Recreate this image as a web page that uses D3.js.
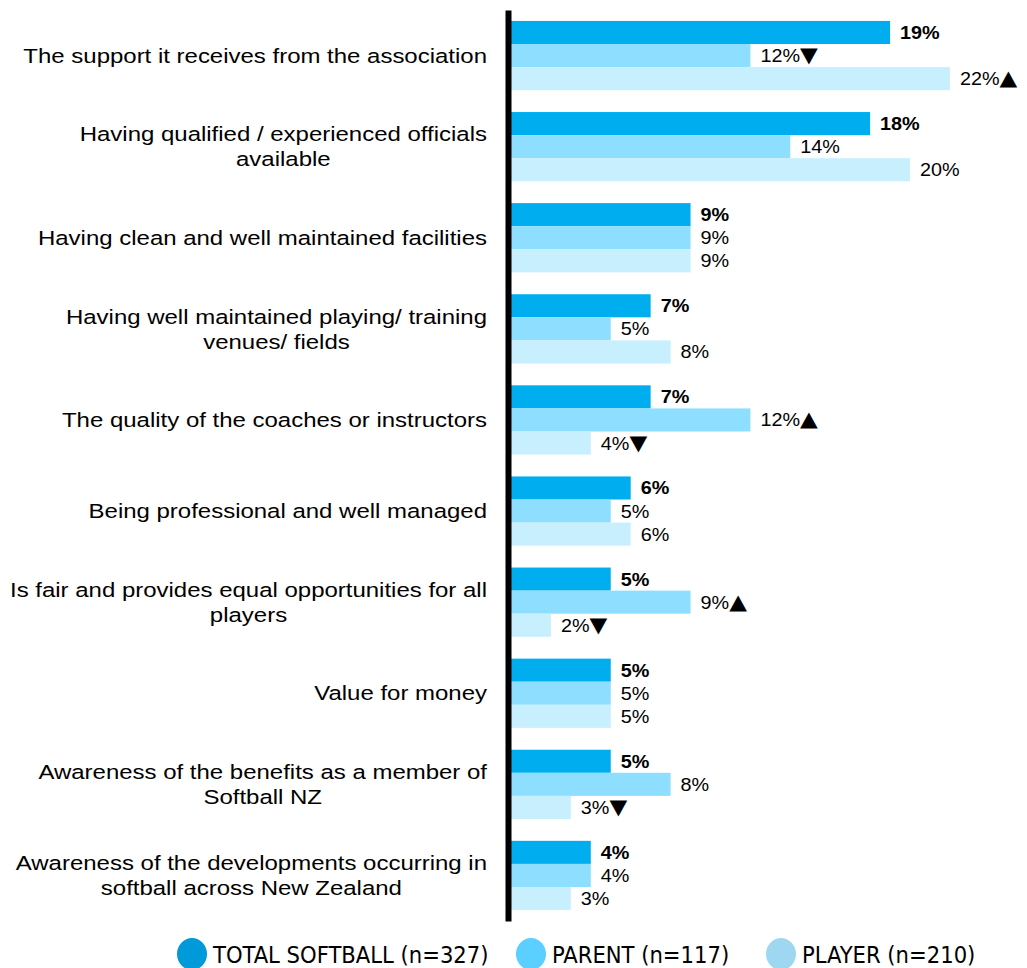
<!DOCTYPE html>
<html>
<head>
<meta charset="utf-8">
<script src="https://cdn.jsdelivr.net/npm/d3@7"></script>
<style>
  body { margin: 0; background: #fff; }
  svg { display: block; }
</style>
</head>
<body>
<div id="chart"></div>
<script>
// data
const categories = [
  'The support it receives from the association',
  'Having qualified / experienced officials|available',
  'Having clean and well maintained facilities',
  'Having well maintained playing/ training|venues/ fields',
  'The quality of the coaches or instructors',
  'Being professional and well managed',
  'Is fair and provides equal opportunities for all|players',
  'Value for money',
  'Awareness of the benefits as a member of|Softball NZ',
  'Awareness of the developments occurring in|softball across New Zealand'
];
const seriesNames = ['TOTAL SOFTBALL (n=327)', 'PARENT (n=117)', 'PLAYER (n=210)'];
const totalValues = [19, 18, 9, 7, 7, 6, 5, 5, 5, 4];
const parentValues = [12, 14, 9, 5, 12, 5, 9, 5, 8, 4];
const playerValues = [22, 20, 9, 8, 4, 6, 2, 5, 3, 3];
// significance markers: 'up' / 'down' / ''
const parentSig = ['down', '', '', '', 'up', '', 'up', '', '', ''];
const playerSig = ['up', '', '', '', 'down', '', 'down', '', 'down', ''];

const barColors = ['#00aeef', '#8edfff', '#c8effd'];
const legendColors = ['#0099d9', '#5bcfff', '#9ed8f0'];

const width = 1027, height = 968;
const svg = d3.select('#chart').append('svg')
  .attr('width', width)
  .attr('height', height);

const rows = categories.map((c, i) => ({
  cat: c,
  vals: [
    {s: 0, v: totalValues[i], sig: ''},
    {s: 1, v: parentValues[i], sig: parentSig[i]},
    {s: 2, v: playerValues[i], sig: playerSig[i]}
  ]
}));

const y = d3.scaleBand()
  .domain(categories)
  .range([10, 921])
  .paddingInner(0.24)
  .paddingOuter(0.12);

const ySub = d3.scaleBand()
  .domain([0, 1, 2])
  .range([0, y.bandwidth()]);

const x = d3.scaleLinear()
  .domain([0, 25])
  .range([511, 511 + 25 * 19.95]);

const groups = svg.selectAll('.group')
  .data(rows)
  .enter().append('g')
  .attr('class', 'group')
  .attr('transform', d => 'translate(0,' + y(d.cat) + ')');

groups.selectAll('rect')
  .data(d => d.vals)
  .enter().append('rect')
  .attr('x', x(0))
  .attr('y', d => ySub(d.s))
  .attr('width', d => x(d.v) - x(0))
  .attr('height', ySub.bandwidth())
  .attr('fill', d => barColors[d.s]);

// the source is stretched a bit horizontally, so the texts are too
const labels = groups.selectAll('text.val')
  .data(d => d.vals)
  .enter().append('text')
  .attr('class', 'val')
  .attr('transform', d => 'translate(' + (x(d.v) + 10) + ',' + (ySub(d.s) + ySub.bandwidth() / 2) + ') scale(1.1,1)')
  .attr('dy', '0.36em')
  .style('font-family', '"Liberation Sans", Arial, sans-serif')
  .style('font-size', '18px')
  .style('font-weight', d => d.s === 0 ? 'bold' : 'normal')
  .attr('fill', '#000');

labels.append('tspan').text(d => d.v + '%');
labels.filter(d => d.sig !== '')
  .append('tspan')
  .style('font-family', '"DejaVu Sans", sans-serif')
  .style('font-size', '21px')
  .text(d => d.sig === 'up' ? '\u25B2' : '\u25BC');

// the thick vertical axis line
svg.append('g')
  .attr('transform', 'translate(508,0)')
  .call(d3.axisLeft(y).tickSize(0).tickSizeOuter(0).tickFormat(''))
  .call(g => g.select('.domain').attr('stroke', '#000').attr('stroke-width', 6));

// category labels, centred lines, block right aligned
const catText = svg.selectAll('.cat')
  .data(rows)
  .enter().append('text')
  .attr('class', 'cat')
  .attr('transform', 'translate(487,0) scale(1.17,1)')
  .style('font-family', '"Liberation Sans", Arial, sans-serif')
  .style('font-size', '20.5px')
  .attr('fill', '#000')
  .attr('text-anchor', 'middle');

catText.each(function(d) {
  const lines = d.cat.split('|');
  const t = d3.select(this);
  const lh = 25;
  const cy = y(d.cat) + y.bandwidth() / 2;
  const spans = lines.map((l, i) => t.append('tspan')
    .attr('y', cy - (lines.length - 1) * lh / 2 + i * lh)
    .attr('dy', '0.35em')
    .text(l));
  const w = d3.max(spans, s => s.node().getComputedTextLength());
  spans.forEach(s => s.attr('x', -w / 2));
});

// legend
const legendX = [192, 531, 781];
const legend = svg.selectAll('.legend')
  .data(seriesNames)
  .enter().append('g')
  .attr('class', 'legend')
  .attr('transform', (d, i) => 'translate(' + legendX[i] + ',954)');

legend.append('ellipse')
  .attr('rx', 15)
  .attr('ry', 16)
  .attr('fill', (d, i) => legendColors[i]);

legend.append('text')
  .attr('x', 21)
  .attr('y', 9)
  .style('font-family', '"DejaVu Sans Condensed", sans-serif')
  .style('font-size', '23.5px')
  .attr('fill', '#000')
  .text(d => d);
</script>
</body>
</html>
